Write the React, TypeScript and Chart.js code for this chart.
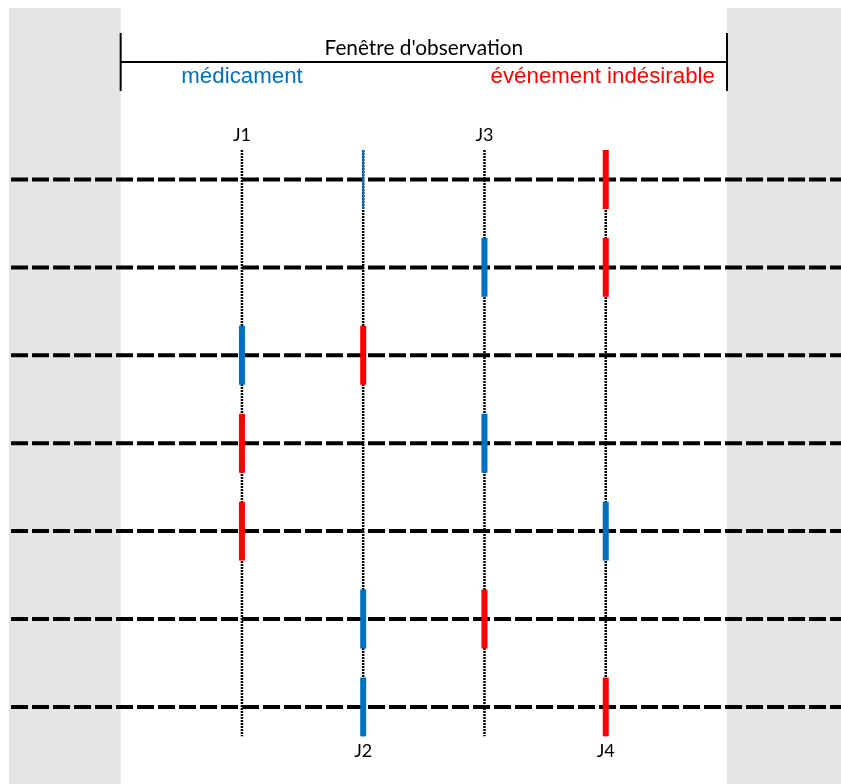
import React, { useEffect, useRef } from "react";
import { Chart, registerables } from "chart.js";

Chart.register(...registerables);

// ---- data ----
const dayValues = [1, 2, 3, 4];
const dayLabels = ["J1", "J2", "J3", "J4"];
const dayLabelOnTop = [true, false, true, false];
const rowValues = [1, 2, 3, 4, 5, 6, 7];
const drugDay = [2, 3, 1, 3, 4, 2, 2]; // blue: médicament
const eventDay = [4, 4, 2, 1, 1, 3, 4]; // red: événement indésirable
const windowStart = 0;
const windowEnd = 5;
const titleText = "Fenêtre d'observation";
const drugText = "médicament";
const eventText = "événement indésirable";

// ---- styles / layout ----
const BLUE = "#0070C0";
const RED = "#FF0000";
const GRAY = "#E5E5E5";
const X_MIN = -0.995;
const X_MAX = 5.94;
const Y_MIN = -1.042;
const Y_MAX = 7.877;
const BAR_HALF = 0.335;

function seg(x1: number, y1: number, x2: number, y2: number, extra: any) {
  return {
    data: [
      { x: x1, y: y1 },
      { x: x2, y: y2 },
    ],
    showLine: true,
    pointRadius: 0,
    pointHoverRadius: 0,
    borderCapStyle: "butt",
    fill: false,
    tension: 0,
    ...extra,
  };
}

export default function App() {
  const ref = useRef<HTMLCanvasElement | null>(null);

  useEffect(() => {
    if (!ref.current) return;
    const datasets: any[] = [];

    // bars
    rowValues.forEach((r, i) => {
      datasets.push(
        seg(drugDay[i], r - BAR_HALF, drugDay[i], r + BAR_HALF, {
          borderColor: BLUE,
          borderWidth: i === 0 ? 2 : 6,
          order: 0,
        })
      );
      datasets.push(
        seg(eventDay[i], r - BAR_HALF, eventDay[i], r + BAR_HALF, {
          borderColor: RED,
          borderWidth: 6,
          order: 0,
        })
      );
    });

    // vertical dotted day lines
    dayValues.forEach((d) => {
      datasets.push(
        seg(d, rowValues[0] - BAR_HALF, d, rowValues[rowValues.length - 1] + BAR_HALF, {
          borderColor: "#000",
          borderWidth: 2.5,
          borderDash: [2, 1],
          order: 1,
        })
      );
    });

    // horizontal dashed rows
    rowValues.forEach((r) => {
      datasets.push(
        seg(-0.904, r, X_MAX, r, {
          borderColor: "#000",
          borderWidth: 4,
          borderDash: [17, 4],
          order: 2,
        })
      );
    });

    // observation window bracket
    datasets.push(
      seg(windowStart, -0.337, windowEnd, -0.337, { borderColor: "#000", borderWidth: 2, order: 3 })
    );
    datasets.push(
      seg(windowStart, -0.667, windowStart, -0.007, { borderColor: "#000", borderWidth: 2, order: 3 })
    );
    datasets.push(
      seg(windowEnd, -0.667, windowEnd, -0.007, { borderColor: "#000", borderWidth: 2, order: 3 })
    );

    const bgPlugin = {
      id: "bg",
      beforeDatasetsDraw(chart: any) {
        const { ctx, scales } = chart;
        const xs = scales.x;
        const ys = scales.y;
        const top = ys.getPixelForValue(-0.951);
        const bottom = ys.getPixelForValue(Y_MAX);
        const left = xs.getPixelForValue(-0.921);
        const w0 = xs.getPixelForValue(windowStart);
        const w1 = xs.getPixelForValue(windowEnd);
        const right = xs.getPixelForValue(X_MAX);
        ctx.save();
        ctx.fillStyle = GRAY;
        ctx.fillRect(left, top, w0 - left, bottom - top);
        ctx.fillRect(w1, top, right - w1, bottom - top);
        ctx.restore();
      },
    };

    const textPlugin = {
      id: "texts",
      afterDatasetsDraw(chart: any) {
        const { ctx, scales } = chart;
        const xs = scales.x;
        const ys = scales.y;
        ctx.save();
        ctx.textBaseline = "alphabetic";
        // title
        ctx.fillStyle = "#000";
        ctx.font = "20.8px Lato";
        ctx.textAlign = "center";
        ctx.fillText(titleText, (xs.getPixelForValue(windowStart) + xs.getPixelForValue(windowEnd)) / 2, ys.getPixelForValue(-0.416));
        // legend texts
        ctx.font = "22.3px 'Liberation Sans'";
        ctx.textAlign = "left";
        ctx.fillStyle = BLUE;
        ctx.fillText(drugText, xs.getPixelForValue(0.5), ys.getPixelForValue(-0.098));
        ctx.textAlign = "right";
        ctx.fillStyle = RED;
        ctx.fillText(eventText, xs.getPixelForValue(4.9), ys.getPixelForValue(-0.098));
        // day labels
        ctx.fillStyle = "#000";
        ctx.font = "18px Lato";
        ctx.textAlign = "center";
        dayValues.forEach((d, i) => {
          const x = xs.getPixelForValue(d);
          const y = dayLabelOnTop[i]
            ? ys.getPixelForValue(rowValues[0] - BAR_HALF) - 9
            : ys.getPixelForValue(rowValues[rowValues.length - 1] + BAR_HALF) + 21;
          ctx.fillText(dayLabels[i], x, y);
        });
        ctx.restore();
      },
    };

    const chart = new Chart(ref.current, {
      type: "scatter",
      data: { datasets },
      options: {
        animation: false,
        responsive: false,
        devicePixelRatio: 1,
        layout: { padding: 0 },
        plugins: { legend: { display: false }, tooltip: { enabled: false } },
        events: [],
        scales: {
          x: { type: "linear", min: X_MIN, max: X_MAX, display: false },
          y: { type: "linear", min: Y_MIN, max: Y_MAX, reverse: true, display: false },
        },
      },
      plugins: [bgPlugin, textPlugin],
    } as any);
    return () => chart.destroy();
  }, []);

  return (
    <div style={{ position: "absolute", left: 0, top: 0, width: 841, height: 784, background: "#fff" }}>
      <canvas ref={ref} width={841} height={784} style={{ display: "block" }} />
    </div>
  );
}
